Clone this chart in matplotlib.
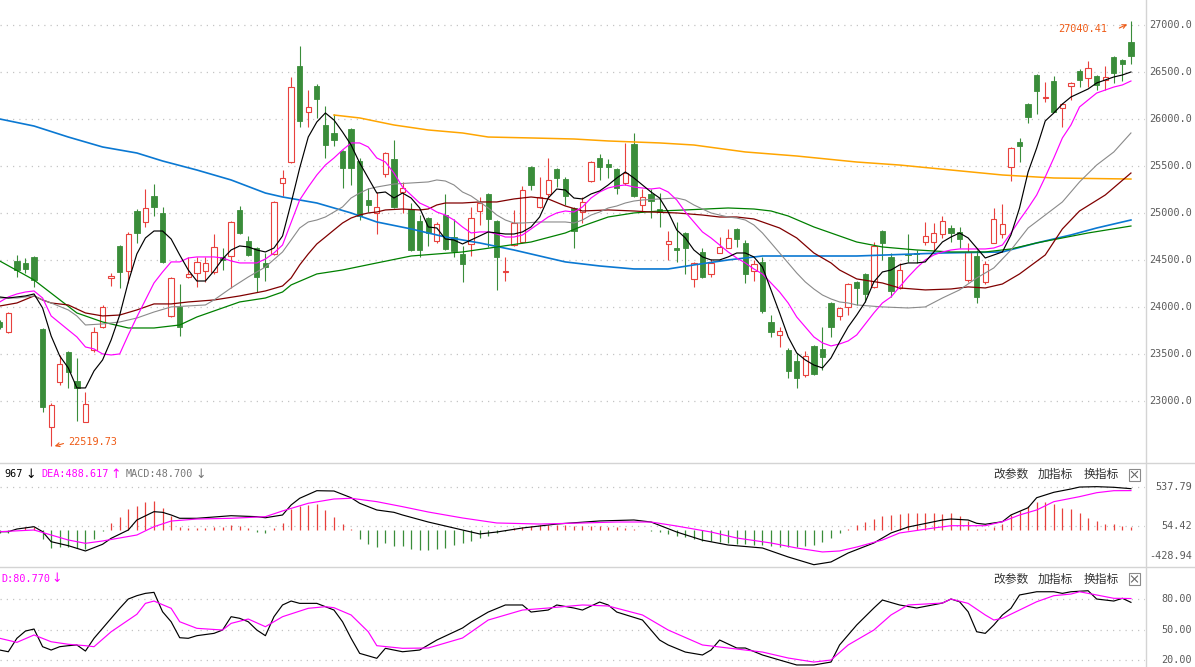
import numpy as np
import matplotlib
matplotlib.use("Agg")
from matplotlib import pyplot as plt
from matplotlib.patches import Rectangle
from matplotlib.lines import Line2D

# ---- daily candles ----
opens = [23840, 23734, 24489, 24468, 24532, 23766, 22723, 23202, 23521, 23212,
         22776, 23542, 23787, 24308, 24649, 24383, 25021, 24904, 25181, 25000,
         23904, 24000, 24319, 24361, 24383, 24372, 24532, 24542, 25032, 24702,
         24627, 24468, 24564, 25319, 25542, 26564, 26074, 26351, 25936, 25851,
         25660, 25893, 25553, 25138, 25000, 25415, 25574, 25223, 25042, 24915,
         24946, 24702, 24978, 24744, 24564, 24670, 25021, 25202, 24915, 24372,
         24659, 24691, 25489, 25064, 25202, 25468, 25361, 25053, 25010, 25340,
         25585, 25521, 25468, 25319, 25734, 25085, 25202, 25042, 24670, 24627,
         24787, 24298, 24585, 24351, 24574, 24627, 24830, 24681, 24383, 24479,
         23840, 23702, 23542, 23425, 23276, 23585, 23553, 24042, 23904, 24000,
         24266, 24351, 24213, 24808, 24532, 24202, 24564, 24574, 24691, 24691,
         24776, 24840, 24798, 24287, 24542, 24266, 24681, 24776, 25489, 25755,
         26159, 26468, 26223, 26404, 26117, 26351, 26511, 26436, 26457, 26415,
         26660, 26628, 26819]
highs = [23861, 23946, 24553, 24521, 24542, 23776, 22978, 23489, 23532, 23457,
         23095, 23787, 24021, 24361, 24659, 24798, 25042, 25255, 25308, 25064,
         24319, 24244, 24532, 24532, 24532, 24776, 24627, 24915, 25074, 24755,
         24638, 24574, 25127, 25457, 26447, 26777, 26308, 26372, 26138, 26053,
         25670, 25904, 25585, 25266, 25223, 25650, 25776, 25330, 25106, 24978,
         24957, 24904, 25202, 24936, 24649, 25064, 25170, 25212, 24925, 24532,
         25032, 25287, 25500, 25383, 25585, 25478, 25383, 25064, 25170, 25553,
         25627, 25574, 25478, 25745, 25851, 25255, 25255, 25212, 24808, 24904,
         24798, 24475, 24627, 24510, 24744, 24830, 24835, 24712, 24500, 24532,
         23914, 23787, 23563, 23510, 23532, 23595, 23787, 24050, 24000, 24250,
         24276, 24360, 24691, 24815, 24574, 24468, 24776, 24606, 24904, 24893,
         24968, 24872, 24851, 24681, 24606, 24489, 25053, 25095, 25700, 25798,
         26170, 26475, 26393, 26457, 26165, 26393, 26532, 26617, 26465, 26564,
         26665, 26635, 27040.41]
lows = [23766, 23723, 24319, 24361, 24213, 22882, 22519.73, 23170, 23138, 22787,
        22776, 23521, 23776, 24223, 24202, 24255, 24681, 24851, 24968, 24470,
        23893, 23691, 24308, 24213, 24266, 24351, 24393, 24202, 24776, 24542,
        24159, 24276, 24553, 25181, 25532, 25915, 25915, 26011, 25585, 25713,
        25266, 25298, 24925, 25010, 24776, 25383, 25053, 25000, 24596, 24532,
        24649, 24681, 24606, 24532, 24266, 24542, 24872, 24638, 24181, 24276,
        24649, 24681, 25244, 25053, 25170, 25276, 25085, 24627, 24893, 25330,
        25351, 25372, 25202, 25298, 25170, 25010, 24946, 24851, 24500, 24479,
        24351, 24213, 24310, 24319, 24574, 24627, 24638, 24255, 24276, 23936,
        23681, 23574, 23244, 23138, 23255, 23276, 23329, 23681, 23861, 23914,
        24021, 24053, 24205, 24500, 24106, 24195, 24479, 24468, 24659, 24606,
        24734, 24691, 24627, 24266, 24042, 24244, 24675, 24734, 25340, 25542,
        25957, 26053, 26181, 26070, 25915, 26202, 26340, 26340, 26308, 26308,
        26383, 26404, 26585]
closes = [23787, 23936, 24393, 24404, 24287, 22936, 22957, 23393, 23308, 23138,
          22967, 23734, 24000, 24329, 24372, 24776, 24787, 25053, 25064, 24479,
          24308, 23787, 24351, 24479, 24468, 24638, 24500, 24904, 24787, 24553,
          24319, 24425, 25117, 25372, 26340, 25979, 26128, 26213, 25723, 25776,
          25478, 25478, 24968, 25085, 25064, 25638, 25064, 25266, 24606, 24606,
          24787, 24883, 24617, 24596, 24457, 24946, 25106, 24936, 24532, 24383,
          24893, 25244, 25298, 25170, 25351, 25372, 25181, 24808, 25117, 25542,
          25489, 25490, 25266, 25425, 25181, 25170, 25127, 25010, 24702, 24606,
          24627, 24468, 24319, 24468, 24638, 24734, 24723, 24351, 24457, 23957,
          23734, 23744, 23319, 23244, 23478, 23287, 23468, 23787, 23989, 24244,
          24202, 24138, 24649, 24681, 24170, 24393, 24553, 24564, 24755, 24787,
          24915, 24787, 24723, 24585, 24106, 24457, 24936, 24883, 25691, 25713,
          26021, 26298, 26234, 26074, 26159, 26383, 26415, 26543, 26362, 26447,
          26489, 26585, 26670]

# ---- moving averages as drawn ----
ma5 = [24106, 24095, 24106, 24117, 24138, 23989, 23691, 23478, 23351, 23138,
       23138, 23319, 23436, 23649, 23914, 24266, 24564, 24734, 24808, 24808,
       24723, 24553, 24393, 24276, 24276, 24383, 24510, 24606, 24649, 24638,
       24606, 24585, 24627, 24755, 25106, 25478, 25808, 25968, 26064, 25989,
       25862, 25723, 25532, 25372, 25212, 25223, 25159, 25212, 25159, 25053,
       24851, 24840, 24723, 24712, 24670, 24712, 24755, 24798, 24787, 24776,
       24776, 24798, 24851, 24957, 25159, 25255, 25244, 25159, 25149, 25202,
       25234, 25298, 25372, 25436, 25372, 25298, 25223, 25159, 25010, 24819,
       24734, 24606, 24532, 24500, 24500, 24532, 24574, 24574, 24532, 24425,
       24181, 23936, 23681, 23510, 23436, 23382, 23351, 23457, 23627, 23787,
       23914, 24053, 24266, 24372, 24393, 24447, 24468, 24468, 24479, 24585,
       24691, 24744, 24787, 24734, 24627, 24521, 24553, 24585, 24766, 25053,
       25436, 25691, 25979, 26064, 26159, 26234, 26276, 26319, 26383, 26415,
       26447, 26468, 26500]
ma10 = [24053, 24106, 24138, 24159, 24170, 24095, 23904, 23829, 23755, 23681,
        23574, 23553, 23500, 23489, 23500, 23702, 23893, 24074, 24255, 24372,
        24479, 24479, 24521, 24532, 24532, 24532, 24521, 24489, 24468, 24468,
        24468, 24510, 24574, 24659, 24900, 25138, 25276, 25404, 25510, 25585,
        25670, 25745, 25745, 25702, 25585, 25542, 25425, 25276, 25191, 25106,
        25064, 25010, 24978, 24925, 24851, 24787, 24798, 24798, 24776, 24744,
        24744, 24766, 24830, 24893, 24957, 25000, 25021, 25010, 25064, 25159,
        25223, 25266, 25287, 25298, 25276, 25266, 25255, 25266, 25223, 25138,
        25010, 24904, 24798, 24734, 24659, 24585, 24521, 24468, 24404, 24351,
        24255, 24159, 24042, 23893, 23787, 23681, 23617, 23585, 23606, 23638,
        23702, 23819, 23936, 24042, 24106, 24213, 24319, 24415, 24500, 24553,
        24585, 24606, 24617, 24617, 24617, 24617, 24627, 24659, 24787, 24925,
        25053, 25191, 25383, 25585, 25798, 25936, 26128, 26202, 26276, 26308,
        26340, 26362, 26404]
ma20_x = [0, 2, 4, 5, 6, 8, 9, 10, 12, 14, 16, 18, 20, 24, 25, 27, 29, 31, 33, 34,
          35, 36, 37, 38, 39, 40, 41, 42, 43, 44, 46, 48, 50, 51, 52, 53, 54, 55, 56, 57,
          58, 59, 60, 61, 63, 65, 66, 67, 68, 69, 70, 71, 72, 73, 74, 75, 77, 79, 80, 81,
          82, 83, 84, 85, 86, 87, 88, 89, 90, 91, 92, 93, 94, 95, 96, 97, 98, 99, 100, 103,
          106, 108, 110, 112, 114, 116, 118, 120, 122, 124, 126, 128, 130, 132]
ma20 = [24095, 24095, 24117, 24074, 24042, 23968, 23904, 23808, 23819, 23840,
        23882, 23946, 24000, 24021, 24074, 24202, 24319, 24425, 24585, 24712,
        24840, 24904, 24925, 24957, 25010, 25064, 25159, 25212, 25255, 25276,
        25308, 25319, 25330, 25351, 25340, 25298, 25223, 25181, 25117, 25053,
        24978, 24925, 24893, 24893, 24904, 24904, 24904, 24893, 24925, 24978,
        25010, 25053, 25074, 25106, 25127, 25138, 25149, 25159, 25138, 25085,
        25042, 25000, 24978, 24957, 24946, 24925, 24872, 24787, 24681, 24574,
        24468, 24361, 24266, 24191, 24127, 24085, 24053, 24042, 24021, 24000,
        23989, 24000, 24095, 24181, 24308, 24415, 24606, 24840, 24978, 25117,
        25330, 25510, 25649, 25851]
ma30_x = [0, 2, 4, 5, 6, 8, 10, 12, 14, 16, 18, 20, 22, 25, 28, 31, 33, 34, 35, 36,
          37, 38, 39, 40, 41, 42, 43, 44, 45, 47, 49, 50, 51, 52, 54, 56, 58, 60, 62, 64,
          66, 68, 71, 74, 76, 79, 82, 84, 86, 88, 89, 91, 93, 95, 97, 98, 100, 103, 105, 108,
          111, 113, 115, 117, 119, 122, 124, 126, 129, 132]
ma30 = [24010, 24042, 24117, 24074, 24042, 24021, 23936, 23904, 23914, 23968,
        24032, 24032, 24053, 24074, 24117, 24170, 24223, 24308, 24447, 24564,
        24670, 24744, 24819, 24893, 24946, 24978, 25000, 25010, 25032, 25042,
        25032, 25042, 25085, 25106, 25106, 25117, 25117, 25149, 25170, 25149,
        25074, 25021, 25032, 25021, 25010, 25000, 24978, 24957, 24957, 24936,
        24904, 24840, 24734, 24574, 24468, 24393, 24298, 24255, 24202, 24181,
        24191, 24213, 24202, 24244, 24351, 24553, 24830, 25021, 25191, 25425]
ma60_x = [0, 4, 9, 12, 15, 18, 21, 23, 26, 28, 31, 33, 34, 37, 40, 44, 48, 54, 58, 62,
          66, 68, 71, 74, 77, 80, 85, 88, 90, 92, 95, 97, 100, 103, 107, 111, 115, 118, 121, 124,
          127, 132]
ma60 = [24489, 24287, 23936, 23840, 23776, 23776, 23808, 23893, 23989, 24053,
        24095, 24159, 24234, 24351, 24393, 24468, 24542, 24585, 24638, 24691,
        24787, 24861, 24957, 25000, 25021, 25032, 25053, 25042, 25021, 24968,
        24851, 24787, 24691, 24638, 24606, 24585, 24585, 24617, 24681, 24734,
        24787, 24861]
ma120_x = [0, 4, 8, 12, 16, 19, 23, 27, 31, 33, 35, 37, 41, 44, 48, 52, 56, 60, 64, 66,
           70, 74, 78, 81, 85, 89, 93, 100, 110, 117, 121, 125, 128, 132]
ma120 = [26000, 25925, 25808, 25702, 25638, 25553, 25457, 25351, 25212, 25170,
         25138, 25106, 25000, 24904, 24830, 24744, 24681, 24606, 24521, 24479,
         24436, 24404, 24404, 24447, 24500, 24542, 24542, 24542, 24574, 24585,
         24681, 24766, 24840, 24925]
ma250_x = [39, 42, 46, 50, 54, 57, 62, 67, 71, 77, 81, 87, 93, 100, 105, 111, 117, 123, 132]
ma250 = [26042, 26011, 25936, 25883, 25851, 25808, 25798, 25787, 25766, 25745,
         25723, 25649, 25606, 25542, 25510, 25457, 25404, 25372, 25361]

# ---- MACD ----
macd_hist = [-30, -41, 0, 37, 37, -116, -219, -207, -207, -219,
             -231, -116, -12, 91, 161, 264, 297, 351, 359, 277,
             173, 41, 29, 29, 21, 41, 41, 62, 50, 29,
             -25, -41, 29, 91, 264, 297, 310, 318, 244, 161,
             78, 8, -107, -169, -207, -157, -198,
             -200, -230, -250, -250, -240, -220, -190, -160, -130, -100, -70, -40,
             -10, 20, 40, 55, 60, 65, 65, 60, 55, 50, 45, 45, 40, 35, 25, 15,
             5, -10, -25, -45, -70, -90,
             -110, -130, -140, -150, -160, -170, -175, -180, -190, -200, -210, -215, -210, -200, -180, -150, -100,
             -40, 10, 60, 100, 140, 170, 190, 200, 210, 215, 215, 210, 205,
             206, 173, 111, 17, 8, 41, 70, 182, 235, 297, 351, 347, 318, 277, 256, 215, 153, 111, 70, 70, 50, 41]
dif_x = [0, 1, 2, 4, 5, 6, 8, 9, 10, 12, 13, 15, 16, 18, 19, 20, 21, 23, 27, 30,
         31, 33, 34, 35, 37, 39, 41, 42, 44, 46, 47, 50, 54, 56, 58, 61, 65, 70, 74, 76,
         79, 82, 85, 89, 92, 95, 97, 99, 102, 104, 106, 110, 111, 113, 114, 115, 117, 118, 120, 121,
         123, 125, 126, 128, 130, 132]
dif = [-20, -20, 13, 42, -20, -144, -193, -226, -259, -176,
       -102, 1, 125, 228, 220, 187, 146, 146, 178, 166,
       153, 187, 311, 394, 488, 484, 401, 332, 249, 220,
       187, 100, 1, -48, -24, 26, 75, 113, 125, 100,
       -24, -125, -185, -222, -333, -429, -395, -284, -160, -36,
       38, 125, 137, 125, 84, 72, 104, 187, 277, 401,
       468, 509, 533, 537.79, 530, 513]
dea_x = [0, 4, 6, 8, 10, 12, 16, 18, 20, 23, 27, 31, 33, 36, 39, 41, 44, 47, 50, 54,
         58, 63, 68, 72, 76, 79, 83, 86, 90, 93, 96, 98, 100, 103, 105, 109, 111, 115, 117, 119,
         121, 123, 126, 128, 130, 132]
dea = [-20, 1, -61, -123, -164, -135, -61, 42, 112, 137,
       146, 166, 237, 332, 385, 394, 352, 290, 224, 150,
       88, 75, 88, 100, 100, 50, -24, -98, -160, -222,
       -271, -259, -210, -123, -36, 26, 54, 54, 104, 187,
       249, 352, 414, 463, 488, 489]

# ---- KDJ ----
k_x = [0, 1, 2, 3, 4, 5, 6, 7, 8, 9, 10, 11, 13, 14, 15, 16, 17, 18, 19, 20,
       21, 22, 23, 25, 26, 27, 28, 29, 30, 31, 32, 33, 34, 35, 37, 39, 40, 41, 42, 44,
       45, 47, 49, 51, 54, 55, 57, 59, 61, 62, 64, 65, 67, 68, 70, 71, 72, 75, 77, 78,
       80, 82, 83, 84, 86, 87, 89, 91, 93, 95, 97, 98, 100, 102, 103, 105, 107, 110, 111, 112,
       113, 114, 115, 116, 117, 118, 119, 121, 123, 124, 125, 127, 128, 130, 131, 132]
k_val = [29.8, 28.1, 41.4, 48.6, 50.6, 33.1, 29.8, 33.1, 34.1, 34.8,
         28.8, 41.4, 61.2, 71.1, 80.3, 83.6, 85.9, 86.9, 67.7, 57.8,
         42.0, 41.4, 44.0, 46.3, 49.6, 62.8, 61.2, 57.8, 49.6, 44.0,
         62.8, 74.4, 78.3, 76.0, 76.0, 69.4, 57.8, 41.4, 26.5, 21.6,
         31.5, 28.1, 29.8, 39.7, 51.6, 57.5, 67.4, 74.4, 74.4, 67.4,
         69.4, 74.4, 71.4, 69.4, 77.3, 74.4, 67.4, 59.5, 39.7, 34.8,
         27.8, 24.9, 29.8, 39.7, 31.8, 31.8, 24.9, 19.9, 15.0, 15.0,
         17.9, 34.8, 54.6, 71.4, 79.3, 74.4, 71.4, 76.3, 80.3, 77.6,
         67.7, 47.9, 46.3, 54.6, 64.5, 71.1, 84.3, 87.5, 87.5, 85.9,
         87.5, 88.5, 80.3, 78.3, 81.0, 77.0]
d_x = [0, 2, 4, 6, 8, 10, 11, 13, 16, 17, 18, 20, 21, 23, 26, 27, 29, 31, 33, 36,
       38, 39, 41, 43, 44, 47, 50, 54, 57, 61, 64, 68, 71, 75, 78, 82, 85, 89, 92, 95,
       97, 99, 102, 104, 106, 110, 111, 113, 115, 116, 117, 119, 121, 123, 125, 126, 128, 130, 132]
d_val = [41.4, 37.4, 44.7, 38.0, 35.5, 34.1, 33.1, 47.9, 65.2, 76.0,
         78.3, 71.1, 57.8, 51.3, 49.6, 56.2, 60.5, 52.9, 62.8, 71.1,
         72.7, 71.7, 64.5, 47.9, 34.1, 31.5, 31.8, 41.7, 59.5, 69.4,
         71.4, 74.4, 73.4, 64.5, 49.6, 34.8, 31.8, 27.8, 21.9, 17.9,
         19.9, 34.8, 49.6, 64.5, 74.4, 76.3, 80.3, 76.0, 64.5, 59.5,
         61.2, 69.4, 77.6, 83.6, 85.2, 87.5, 84.3, 81.0, 80.8]

price_ticks = [27000, 26500, 26000, 25500, 25000, 24500, 24000, 23500, 23000]
macd_ticks = [537.79, 54.42, -428.94]
kdj_ticks = [80, 50, 20]

RED = "#e8413d"
GREEN = "#3a8d3a"
ORANGE_TXT = "#ee5a16"
GRID = "#c4c4c4"
LBL = "#5a5a5a"
MONO = "DejaVu Sans Mono"
CJK = ["Noto Sans CJK SC", "DejaVu Sans"]

W, H = 1195, 667
AXR = 1145  # right edge of plot area, px
XL = (0.03, 133.64)

fig = plt.figure(figsize=(W / 100, H / 100), dpi=100)


def fx(p):
    return p / W


def fy(p):
    return 1 - p / H


ax = fig.add_axes([0, fy(462), fx(AXR), 462 / H])
ax_m = fig.add_axes([0, fy(566), fx(AXR), 103 / H])
ax_k = fig.add_axes([0, 0, fx(AXR), 100 / H])
for a in (ax, ax_m, ax_k):
    a.set_axis_off()
    a.set_xlim(*XL)

ax.set_ylim(22350, 27266)
ax_m.set_ylim(-445, 831)
ax_k.set_ylim(13, 112)

# grid
for v in price_ticks:
    ax.axhline(v, color=GRID, lw=0.9, ls=(0, (1, 4)), zorder=0)
for v in macd_ticks[:2]:
    ax_m.axhline(v, color=GRID, lw=0.9, ls=(0, (1, 4)), zorder=0)
for v in kdj_ticks:
    ax_k.axhline(v, color=GRID, lw=0.9, ls=(0, (1, 4)), zorder=0)

# candles
n = len(closes)
bw = 0.62
for i in range(n):
    o, h, l, c = opens[i], highs[i], lows[i], closes[i]
    if c >= o:
        ax.vlines(i, c, h, color=RED, lw=0.8, zorder=2)
        ax.vlines(i, l, o, color=RED, lw=0.8, zorder=2)
        ax.add_patch(Rectangle((i - bw / 2, o), bw, max(c - o, 6),
                               facecolor="white", edgecolor=RED, lw=0.8, zorder=2))
    else:
        ax.vlines(i, l, h, color=GREEN, lw=0.8, zorder=2)
        ax.add_patch(Rectangle((i - bw / 2, c), bw, max(o - c, 6),
                               facecolor=GREEN, edgecolor=GREEN, lw=0.6, zorder=2))

idx = np.arange(n)
ax.plot(ma250_x, ma250, color="#ffa500", lw=1.1, zorder=3)
ax.plot(ma120_x, ma120, color="#0a78d2", lw=1.2, zorder=3)
ax.plot(ma60_x, ma60, color="#008000", lw=0.9, zorder=3)
ax.plot(ma30_x, ma30, color="#800000", lw=0.9, zorder=3)
ax.plot(ma20_x, ma20, color="#8a8a8a", lw=0.8, zorder=3)
ax.plot(idx, ma10, color="#ff00ff", lw=0.85, zorder=3)
ax.plot(idx, ma5, color="black", lw=0.85, zorder=3)

# high / low marks
ax.annotate("", xy=(131.85, 27020), xytext=(130.35, 26955),
            arrowprops=dict(arrowstyle="->", color=ORANGE_TXT, lw=0.8, mutation_scale=7))
fig.text(fx(1058), fy(29), "27040.41", color=ORANGE_TXT, fontsize=7.3,
         family=MONO, ha="left", va="center")
ax.annotate("", xy=(6.1, 22510), xytext=(7.75, 22555),
            arrowprops=dict(arrowstyle="->", color=ORANGE_TXT, lw=0.8, mutation_scale=7))
fig.text(fx(68), fy(442), "22519.73", color=ORANGE_TXT, fontsize=7.3,
         family=MONO, ha="left", va="center")

# MACD panel
hist = np.array(macd_hist, dtype=float)
cols = [RED if v >= 0 else GREEN for v in hist]
ax_m.vlines(idx, 0, hist, colors=cols, lw=0.9, zorder=2)
ax_m.plot(dif_x, dif, color="black", lw=0.85, zorder=3)
ax_m.plot(dea_x, dea, color="#ff00ff", lw=0.85, zorder=3)

# KDJ panel
ax_k.plot(k_x, k_val, color="black", lw=0.85, zorder=3)
ax_k.plot(d_x, d_val, color="#ff00ff", lw=0.85, zorder=3)

# right axis labels
for v in price_ticks:
    ypx = (27266 - v) / 10.64
    fig.text(fx(1192), fy(ypx), f"{v:.1f}", color=LBL, fontsize=7.3,
             family=MONO, ha="right", va="center")
for lab, ypx in zip(["537.79", "54.42", "-428.94"], [487, 526, 556]):
    fig.text(fx(1192), fy(ypx), lab, color=LBL, fontsize=7.3,
             family=MONO, ha="right", va="center")
for v in kdj_ticks:
    ypx = 599.3 - (v - 80) / 0.99
    fig.text(fx(1192), fy(ypx), f"{v:.2f}", color=LBL, fontsize=7.3,
             family=MONO, ha="right", va="center")

# panel headers
hdr = [("967", 4, "black"), ("DEA:488.617", 41, "#ff00ff"), ("MACD:48.700", 126, "#777777")]
for s, xp, col in hdr:
    fig.text(fx(xp), fy(474), s, color=col, fontsize=7.3, family=MONO,
             ha="left", va="center")
arrows = [("\u2193", 31, "black"), ("\u2191", 116, "#ff00ff"), ("\u2193", 201, "#777777")]
for s, xp, col in arrows:
    fig.text(fx(xp), fy(474), s, color=col, fontsize=9, family="DejaVu Sans",
             ha="center", va="center")
fig.text(fx(1), fy(578.5), "D:80.770", color="#ff00ff", fontsize=7.3,
         family=MONO, ha="left", va="center")
fig.text(fx(57), fy(578.5), "\u2193", color="#ff00ff", fontsize=9,
         family="DejaVu Sans", ha="center", va="center")

for ytop in (474.5, 579):
    for s, xp in (("改参数", 993), ("加指标", 1038), ("换指标", 1084)):
        fig.text(fx(xp), fy(ytop), s, color="#333333", fontsize=8.5,
                 family=CJK, ha="left", va="center")
    bx, by = 1129, ytop - 6
    fig.patches.append(Rectangle((fx(bx), fy(by + 12)), fx(11), 12 / H,
                                 transform=fig.transFigure, fill=False,
                                 edgecolor="#8a8a8a", lw=0.8))
    fig.lines.append(Line2D([fx(bx + 2.5), fx(bx + 8.5)], [fy(by + 3), fy(by + 9)],
                            transform=fig.transFigure, color="#666666", lw=0.8))
    fig.lines.append(Line2D([fx(bx + 2.5), fx(bx + 8.5)], [fy(by + 9), fy(by + 3)],
                            transform=fig.transFigure, color="#666666", lw=0.8))

# frame separators
SEP = "#d4d4d4"
fig.lines.append(Line2D([fx(AXR + 0.5)] * 2, [0, 1], transform=fig.transFigure, color=SEP, lw=1.0))
for ysep in (462.5, 566.5):
    fig.lines.append(Line2D([0, 1], [fy(ysep)] * 2, transform=fig.transFigure, color=SEP, lw=1.0))

fig.savefig("out.png", dpi=100, facecolor="white")
